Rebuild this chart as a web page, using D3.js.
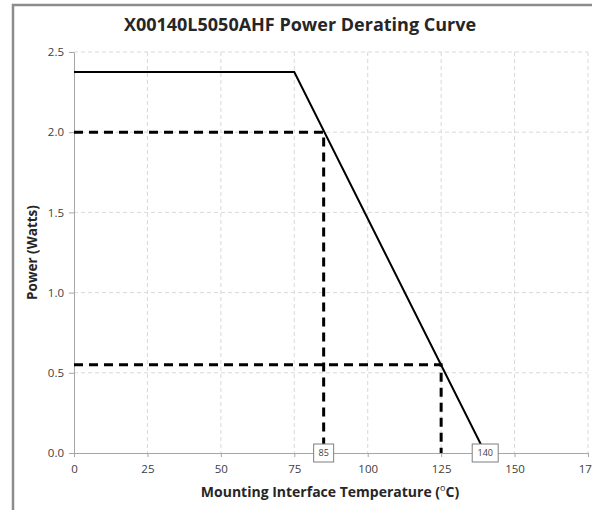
<!DOCTYPE html>
<html>
<head>
<meta charset="utf-8">
<script src="https://cdn.jsdelivr.net/npm/d3@7"></script>
<style>
  body { margin: 0; background: #fff; }
  svg { display: block; font-family: "Open Sans", "Liberation Sans", sans-serif; }
</style>
</head>
<body>
<svg id="chart" width="592" height="510"></svg>
<script>
// data
const curveTemp = [0, 75, 140];
const curvePower = [2.375, 2.375, 0];
const guideTemp = [85, 125];
const guidePower = [2.0, 0.55];
const labelTemp = [85, 140];
const xTicks = [0, 25, 50, 75, 100, 125, 150, 175];
const yTicks = [0, 0.5, 1.0, 1.5, 2.0, 2.5];

const svg = d3.select("#chart");
const plotLeft = 74, plotRight = 588, plotTop = 52, plotBottom = 453;

const x = d3.scaleLinear().domain([0, 175]).range([plotLeft, plotRight]);
const y = d3.scaleLinear().domain([0, 2.5]).range([plotBottom, plotTop]);

// frame
svg.append("path")
  .attr("d", "M13,510 V5 H592")
  .attr("fill", "none")
  .attr("stroke", "#8c8c8c")
  .attr("stroke-width", 2.5);

// grid
svg.append("g")
  .selectAll("line")
  .data(xTicks.slice(1))
  .enter()
  .append("line")
  .attr("x1", (d) => x(d))
  .attr("x2", (d) => x(d))
  .attr("y1", plotTop)
  .attr("y2", plotBottom)
  .attr("stroke", "#d9d9d9")
  .attr("stroke-dasharray", "4,3");
svg.append("g")
  .selectAll("line")
  .data(yTicks.slice(1))
  .enter()
  .append("line")
  .attr("x1", plotLeft)
  .attr("x2", plotRight)
  .attr("y1", (d) => y(d))
  .attr("y2", (d) => y(d))
  .attr("stroke", "#d9d9d9")
  .attr("stroke-dasharray", "4,3");

// axes
var xAxis = svg.append("g")
  .attr("transform", `translate(0,${plotBottom})`)
  .call(d3.axisBottom(x).tickValues(xTicks).tickSize(4).tickSizeOuter(0).tickFormat(d3.format("d")));
var yAxis = svg.append("g")
  .attr("transform", `translate(${plotLeft},0)`)
  .call(d3.axisLeft(y).tickValues(yTicks).tickSize(5).tickSizeOuter(0).tickFormat(d3.format(".1f")));
[xAxis, yAxis].forEach((g) => {
  g.select(".domain").attr("stroke", "#a6a6a6");
  g.selectAll(".tick line").attr("stroke", "#a6a6a6");
  g.selectAll(".tick text")
    .attr("fill", "#404040")
    .style("font-size", "11.5px")
    .style("font-family", "'Open Sans', sans-serif");
});
xAxis.selectAll(".tick text").attr("dy", "1.15em");
yAxis.selectAll(".tick text").attr("dx", "-2");

// dashed guides
guideTemp.forEach((t, i) => {
  svg.append("path")
    .attr("d", d3.line()([[x(0), y(guidePower[i])], [x(t), y(guidePower[i])], [x(t), y(0)]]))
    .attr("fill", "none")
    .attr("stroke", "#000")
    .attr("stroke-width", 3)
    .attr("stroke-dasharray", "9,6");
});

// derating curve
svg.append("path")
  .datum(d3.zip(curveTemp, curvePower))
  .attr("d", d3.line().x((d) => x(d[0])).y((d) => y(d[1])))
  .attr("fill", "none")
  .attr("stroke", "#000")
  .attr("stroke-width", 2);

// point labels
var lab = svg.append("g")
  .selectAll("g")
  .data(labelTemp)
  .enter()
  .append("g")
  .attr("transform", (d) => `translate(${x(d)},${y(0)})`);
lab.append("rect")
  .attr("x", (d) => (d >= 100 ? -13 : -10))
  .attr("y", -9)
  .attr("width", (d) => (d >= 100 ? 26 : 20))
  .attr("height", 18)
  .attr("fill", "#fff")
  .attr("stroke", "#7f7f7f");
lab.append("text")
  .attr("text-anchor", "middle")
  .attr("dy", "0.35em")
  .attr("fill", "#404040")
  .style("font-size", "9px")
  .text((d) => d);

// titles
svg.append("text")
  .attr("x", 300)
  .attr("y", 31)
  .attr("text-anchor", "middle")
  .attr("font-weight", "bold")
  .attr("fill", "#262626")
  .style("font-size", "18px")
  .text("X00140L5050AHF Power Derating Curve");

var xt = svg.append("text")
  .attr("x", 330)
  .attr("y", 497)
  .attr("text-anchor", "middle")
  .attr("font-weight", "bold")
  .attr("fill", "#262626")
  .style("font-size", "14px");
xt.append("tspan").text("Mounting Interface Temperature (");
xt.append("tspan").attr("baseline-shift", "super").style("font-size", "9px").attr("font-weight", "normal").text("o");
xt.append("tspan").text("C)");

svg.append("text")
  .attr("transform", `translate(37,${(plotTop + plotBottom) / 2}) rotate(-90)`)
  .attr("text-anchor", "middle")
  .attr("font-weight", "bold")
  .attr("fill", "#262626")
  .style("font-size", "13.5px")
  .text("Power (Watts)");
</script>
</body>
</html>
